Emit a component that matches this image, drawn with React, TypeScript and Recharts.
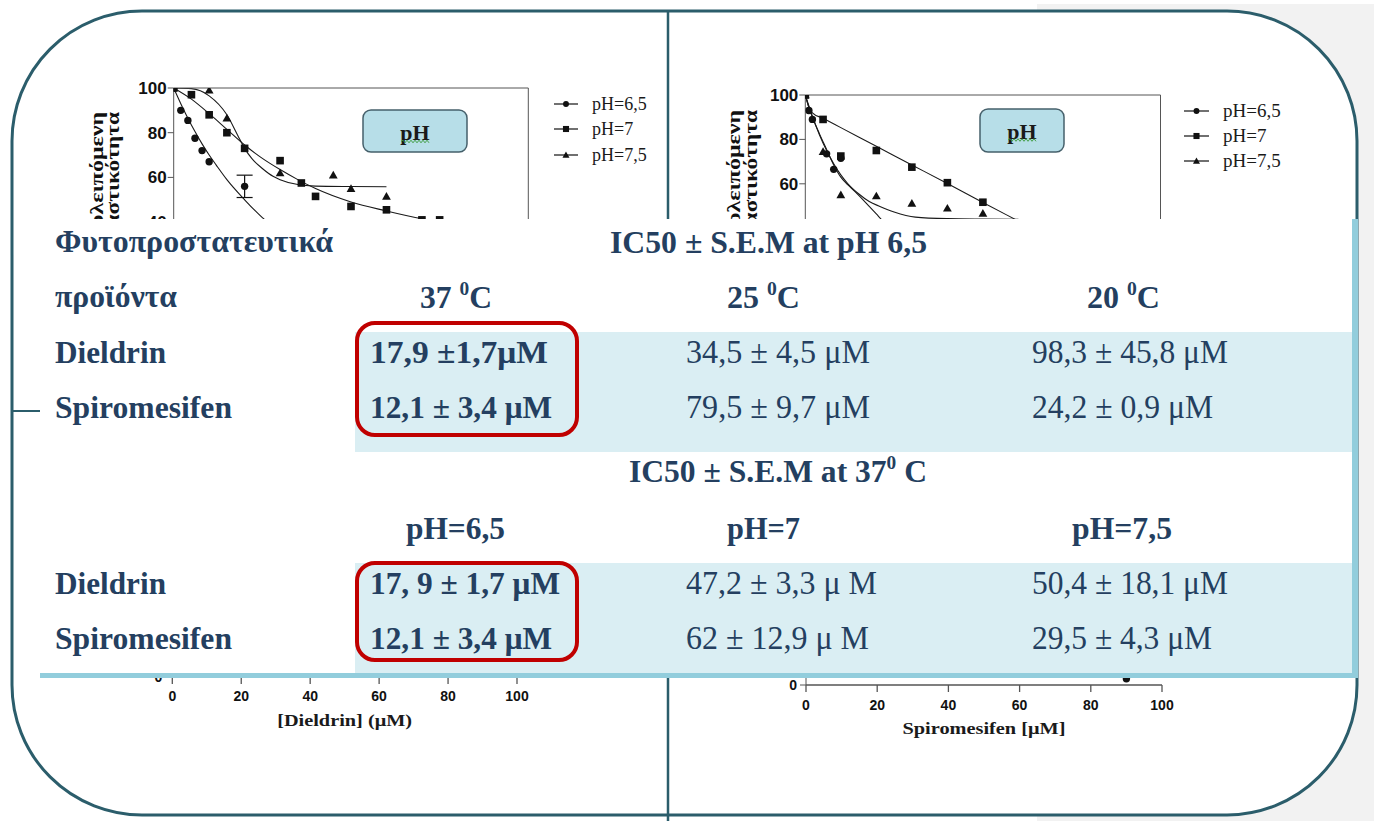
import React from 'react';
import { ComposedChart, Scatter, Line, XAxis, YAxis, Legend, ErrorBar } from 'recharts';

type Pt = { x: number; y: number; err?: number };
type Kind = 'circle' | 'square' | 'triangle';

// ---- axis ticks / series names ----
const xTicks = [0, 20, 40, 60, 80, 100];
const yTicksDieldrin = [40, 60, 80, 100];
const yTicksSpiro = [60, 80, 100];
const phLabels = ['pH=6,5', 'pH=7', 'pH=7,5'];
const markerKinds: Kind[] = ['circle', 'square', 'triangle'];
const yTitleLines = ['Υπολειπόμενη', 'δραστικότητα'];

// ---- Dieldrin: remaining activity (%) vs concentration (μM) ----
const dieldrinPh65: Pt[] = [
  { x: 0, y: 100 }, { x: 2, y: 90 }, { x: 4, y: 85.5 }, { x: 6, y: 77.5 },
  { x: 8, y: 72 }, { x: 10, y: 67 }, { x: 20, y: 56, err: 5 },
];
const dieldrinPh7: Pt[] = [
  { x: 0, y: 100 }, { x: 5, y: 97 }, { x: 10, y: 88 }, { x: 15, y: 80 }, { x: 20, y: 73 },
  { x: 30, y: 67.5 }, { x: 36, y: 57.5 }, { x: 40, y: 51.5 }, { x: 50, y: 47 },
  { x: 60, y: 45.5 }, { x: 70, y: 41 }, { x: 75, y: 41 },
];
const dieldrinPh75: Pt[] = [
  { x: 0, y: 100 }, { x: 10, y: 99 }, { x: 15, y: 86.5 }, { x: 30, y: 62 },
  { x: 45, y: 61 }, { x: 50, y: 55 }, { x: 60, y: 51.5 },
];
// fitted curves
const dieldrinFit65: Pt[] = [
  { x: 0, y: 100 }, { x: 2, y: 93 }, { x: 4, y: 86.5 }, { x: 6, y: 80.5 }, { x: 8, y: 75 },
  { x: 10, y: 70 }, { x: 12, y: 65.5 }, { x: 15, y: 59 }, { x: 20, y: 50 }, { x: 25, y: 42 },
  { x: 30, y: 36 }, { x: 40, y: 27 }, { x: 50, y: 21 }, { x: 60, y: 17 }, { x: 70, y: 14 },
  { x: 80, y: 12 }, { x: 90, y: 10.5 }, { x: 100, y: 9.5 },
];
const dieldrinFit7: Pt[] = [
  { x: 0, y: 100 }, { x: 5, y: 95 }, { x: 10, y: 88.5 }, { x: 15, y: 81.5 }, { x: 20, y: 74.5 },
  { x: 25, y: 68.5 }, { x: 30, y: 63.5 }, { x: 35, y: 59 }, { x: 40, y: 55 }, { x: 50, y: 49 },
  { x: 60, y: 45 }, { x: 70, y: 41.5 }, { x: 80, y: 39 }, { x: 90, y: 37 }, { x: 100, y: 35.5 },
];
const dieldrinFit75: Pt[] = [
  { x: 0, y: 100 }, { x: 5, y: 99.7 }, { x: 10, y: 96.5 }, { x: 15, y: 88 }, { x: 18, y: 79 },
  { x: 20, y: 73 }, { x: 22, y: 68.5 }, { x: 25, y: 64 }, { x: 28, y: 60.5 }, { x: 30, y: 59 },
  { x: 35, y: 56.8 }, { x: 40, y: 56.1 }, { x: 50, y: 55.9 }, { x: 60, y: 55.8 },
];

// ---- Spiromesifen: remaining activity (%) vs concentration (μM) ----
const spiroPh65: Pt[] = [
  { x: 0, y: 100 }, { x: 1, y: 93 }, { x: 2, y: 89 }, { x: 6, y: 73.5 },
  { x: 8, y: 66.5 }, { x: 10, y: 71.5 }, { x: 90, y: 1 },
];
const spiroPh7: Pt[] = [
  { x: 0, y: 100 }, { x: 5, y: 89 }, { x: 10, y: 72.5 }, { x: 20, y: 75 },
  { x: 30, y: 67.5 }, { x: 40, y: 60.5 }, { x: 50, y: 51.7 },
];
const spiroPh75: Pt[] = [
  { x: 0, y: 100 }, { x: 5, y: 74.5 }, { x: 10, y: 55 }, { x: 20, y: 54.5 },
  { x: 30, y: 51.2 }, { x: 40, y: 49 }, { x: 50, y: 46.7 },
];
const spiroFit65: Pt[] = [
  { x: 0, y: 100 }, { x: 1, y: 94.5 }, { x: 2, y: 90 }, { x: 4, y: 82.5 }, { x: 6, y: 75.5 },
  { x: 8, y: 68.5 }, { x: 10, y: 63 }, { x: 12, y: 59.5 }, { x: 14, y: 56.5 }, { x: 16, y: 53.2 },
  { x: 18, y: 49.8 }, { x: 20, y: 46.4 }, { x: 22, y: 43 }, { x: 25, y: 39 }, { x: 30, y: 33 },
  { x: 40, y: 23 }, { x: 50, y: 15 }, { x: 60, y: 9.5 }, { x: 70, y: 5.5 }, { x: 80, y: 3 },
  { x: 90, y: 1.5 }, { x: 100, y: 0.8 },
];
const spiroFit7: Pt[] = [
  { x: 0, y: 100 }, { x: 1, y: 94.5 }, { x: 2, y: 92 }, { x: 5, y: 89.5 }, { x: 10, y: 85.3 },
  { x: 20, y: 76.9 }, { x: 30, y: 68.5 }, { x: 40, y: 60.1 }, { x: 50, y: 51.6 }, { x: 60, y: 43.2 },
  { x: 70, y: 34.8 }, { x: 80, y: 26.4 }, { x: 90, y: 18 }, { x: 100, y: 9.6 },
];
const spiroFit75: Pt[] = [
  { x: 0, y: 100 }, { x: 2, y: 90.5 }, { x: 4, y: 82 }, { x: 6, y: 75 }, { x: 8, y: 69 },
  { x: 10, y: 64 }, { x: 12, y: 60 }, { x: 15, y: 55.5 }, { x: 18, y: 52 }, { x: 21, y: 49.8 },
  { x: 25, y: 47.3 }, { x: 31, y: 45 }, { x: 40, y: 44.3 }, { x: 50, y: 44.1 }, { x: 60, y: 44 },
];

// ---- IC50 table ----
const productHeader = ['Φυτοπροστατευτικά', 'προϊόντα'];
const products = ['Dieldrin', 'Spiromesifen'];
const tempHeaders = ['37', '25', '20'];
const phHeaders = ['pH=6,5', 'pH=7', 'pH=7,5'];
const ic50ByTemp = [
  ['17,9 ±1,7μM', '34,5 ± 4,5 μM', '98,3 ± 45,8 μM'],
  ['12,1 ± 3,4 μM', '79,5 ± 9,7 μM', '24,2 ± 0,9 μM'],
];
const ic50ByPh = [
  ['17, 9 ± 1,7 μM', '47,2 ± 3,3 μ M', '50,4 ± 18,1 μM'],
  ['12,1 ± 3,4 μM', '62 ± 12,9 μ M', '29,5 ± 4,3 μM'],
];

const SERIF = '"Liberation Serif", "Times New Roman", serif';
const SANS = '"Liberation Sans", Arial, sans-serif';
const NAVY = '#243f60';
const TEAL = '#2b5d6b';
const INK = '#111';

function Marker({ kind, cx, cy, s = 1 }: { kind: Kind; cx: number; cy: number; s?: number }) {
  if (kind === 'circle') return <circle cx={cx} cy={cy} r={3.7 * s} fill={INK} />;
  if (kind === 'square')
    return <rect x={cx - 3.8 * s} y={cy - 3.8 * s} width={7.6 * s} height={7.6 * s} fill={INK} />;
  return (
    <path
      d={`M${cx},${cy - 4.3 * s}L${cx + 4.4 * s},${cy + 3.3 * s}L${cx - 4.4 * s},${cy + 3.3 * s}Z`}
      fill={INK}
    />
  );
}
const shapeFor = (kind: Kind) => (p: any) => <Marker kind={kind} cx={p.cx} cy={p.cy} />;
const kindByName: Record<string, Kind> = Object.fromEntries(phLabels.map((l, i) => [l, markerKinds[i]]));

const makeLegend = (fontSize: number, rowH: number, lineW: number, gap: number) => (props: any) => {
  const items = (props.payload || []).filter((p: any) => p.type !== 'none');
  return (
    <div style={{ fontFamily: SERIF, fontSize, color: '#1a1a1a', lineHeight: 1 }}>
      {items.map((p: any) => (
        <div key={p.value} style={{ display: 'flex', alignItems: 'center', height: rowH }}>
          <svg width={lineW + gap} height={14} style={{ display: 'block' }}>
            <line x1={0} y1={7} x2={lineW} y2={7} stroke={INK} strokeWidth={1.2} />
            <Marker kind={kindByName[p.value]} cx={lineW / 2} cy={7} s={0.8} />
          </svg>
          <span>{p.value}</span>
        </div>
      ))}
    </div>
  );
};

// rotated axis title: each line reads upward and ends a fixed distance below the plot top
const makeYTitle = (lines: string[], offsets: number[], lengths: number[], endGap: number) => (props: any) => {
  const vb = props.viewBox;
  const cy = vb.y + endGap;
  const right = vb.x + vb.width;
  return (
    <g>
      {lines.map((t, i) => {
        const cx = right - offsets[i];
        return (
          <text
            key={i}
            x={cx}
            y={cy}
            transform={`rotate(-90 ${cx} ${cy})`}
            textAnchor="end"
            dominantBaseline="central"
            textLength={lengths[i]}
            lengthAdjust="spacingAndGlyphs"
            fontFamily={SERIF}
            fontWeight={700}
            fontSize={18}
            fill={INK}
          >
            {t}
          </text>
        );
      })}
    </g>
  );
};

const makeXTitle = (text: string, dy: number, len: number) => (props: any) => {
  const vb = props.viewBox;
  return (
    <text
      x={vb.x + vb.width / 2}
      y={vb.y + dy}
      textAnchor="middle"
      textLength={len}
      lengthAdjust="spacingAndGlyphs"
      fontFamily={SERIF}
      fontWeight={700}
      fontSize={17}
      fill="#1a1a1a"
    >
      {text}
    </text>
  );
};

type Box = { left: number; top: number; w: number; h: number };
type Plot = { l: number; r: number; t: number; b: number };

function TopChart(props: {
  box: Box;
  plot: Plot;
  series: Pt[][];
  fits: Pt[][];
  yTicks: number[];
  legendAt: { x: number; y: number; font: number; rowH: number; lineW: number; gap: number };
  titleOffsets: number[];
  titleLengths: number[];
  titleEnd: number;
}) {
  const { box, plot, series, fits, yTicks, legendAt, titleOffsets, titleLengths, titleEnd } = props;
  const yW = 80;
  const margin = {
    top: plot.t - box.top,
    bottom: box.top + box.h - plot.b,
    left: plot.l - box.left - yW,
    right: box.left + box.w - plot.r,
  };
  return (
    <div style={{ position: 'absolute', left: box.left, top: box.top }}>
      <ComposedChart width={box.w} height={box.h} margin={margin}>
        <XAxis
          xAxisId="x"
          type="number"
          dataKey="x"
          domain={[0, 100]}
          ticks={xTicks}
          orientation="top"
          mirror
          tick={false}
          tickSize={5}
          stroke="#555"
          allowDataOverflow
        />
        <YAxis
          yAxisId="y"
          type="number"
          dataKey="y"
          domain={[0, 100]}
          ticks={yTicks}
          width={yW}
          tickSize={6}
          tickMargin={1}
          stroke="#555"
          tick={{ fill: INK, fontSize: 17, fontWeight: 700, fontFamily: SANS }}
          label={makeYTitle(yTitleLines, titleOffsets, titleLengths, titleEnd)}
          allowDataOverflow
        />
        <YAxis
          yAxisId="frame"
          type="number"
          orientation="right"
          mirror
          domain={[0, 100]}
          ticks={yTicks}
          width={40}
          tick={false}
          tickSize={5}
          stroke="#555"
        />
        {fits.map((f, i) => (
          <Line
            key={'fit' + i}
            xAxisId="x"
            yAxisId="y"
            data={f}
            dataKey="y"
            type="monotone"
            dot={false}
            stroke="#1a1a1a"
            strokeWidth={1.1}
            legendType="none"
            isAnimationActive={false}
          />
        ))}
        {series.map((s, i) => (
          <Scatter
            key={phLabels[i]}
            name={phLabels[i]}
            xAxisId="x"
            yAxisId="y"
            data={s}
            fill={INK}
            shape={shapeFor(markerKinds[i])}
            isAnimationActive={false}
          >
            {s.some((d) => d.err) ? (
              <ErrorBar dataKey="err" direction="y" width={8} stroke={INK} strokeWidth={1.2} />
            ) : null}
          </Scatter>
        ))}
        <Legend
          layout="vertical"
          align="center"
          verticalAlign="middle"
          content={makeLegend(legendAt.font, legendAt.rowH, legendAt.lineW, legendAt.gap)}
          wrapperStyle={{ left: legendAt.x - box.left, top: legendAt.y - box.top, width: 'auto', height: 'auto' }}
        />
      </ComposedChart>
    </div>
  );
}

function BottomChart(props: {
  box: Box;
  plot: Plot;
  series: Pt[][];
  title: string;
  titleDy: number;
  titleLen: number;
  tickMargin: number;
  yTickMargin: number;
}) {
  const { box, plot, series, title, titleDy, titleLen, tickMargin, yTickMargin } = props;
  const yW = 60;
  const xH = box.top + box.h - plot.b;
  const margin = { top: plot.t - box.top, bottom: 0, left: plot.l - box.left - yW, right: box.left + box.w - plot.r };
  return (
    <div style={{ position: 'absolute', left: box.left, top: box.top }}>
      <ComposedChart width={box.w} height={box.h} margin={margin}>
        <XAxis
          xAxisId="x"
          type="number"
          dataKey="x"
          domain={[0, 100]}
          ticks={xTicks}
          height={xH}
          tickSize={7}
          tickMargin={tickMargin}
          stroke="#555"
          strokeWidth={1.3}
          tick={{ fill: INK, fontSize: 14, fontWeight: 700, fontFamily: SANS }}
          label={makeXTitle(title, titleDy, titleLen)}
          allowDataOverflow
        />
        <YAxis
          yAxisId="y"
          type="number"
          dataKey="y"
          domain={[0, 20]}
          ticks={[0]}
          width={yW}
          tickSize={6}
          tickMargin={yTickMargin}
          stroke="#555"
          tick={{ fill: INK, fontSize: 14, fontWeight: 700, fontFamily: SANS }}
          allowDataOverflow
        />
        {series.map((s, i) => (
          <Scatter
            key={phLabels[i]}
            name={phLabels[i]}
            xAxisId="x"
            yAxisId="y"
            data={s}
            fill={INK}
            shape={shapeFor(markerKinds[i])}
            legendType="none"
            isAnimationActive={false}
          />
        ))}
      </ComposedChart>
    </div>
  );
}

function Squiggle({ x0, x1, y }: { x0: number; x1: number; y: number }) {
  let d = `M${x0},${y}`;
  let up = true;
  for (let x = x0 + 2; x <= x1; x += 2) {
    d += `L${x},${y + (up ? -1.3 : 1.3)}`;
    up = !up;
  }
  return <path d={d} fill="none" stroke="#3a9a3a" strokeWidth={0.9} />;
}

function PhBox({ x, y, w, h, base }: { x: number; y: number; w: number; h: number; base: number }) {
  const cx = x + w / 2;
  return (
    <g>
      <rect x={x} y={y} width={w} height={h} rx={8} fill="#b7dee8" stroke="#46606b" strokeWidth={1.5} />
      <text x={cx} y={base} textAnchor="middle" fontFamily={SERIF} fontWeight={700} fontSize={22} fill="#1a1a1a">
        pH
      </text>
      <Squiggle x0={cx - 14} x1={cx + 14} y={base + 1.5} />
    </g>
  );
}

function Txt(p: { x: number; y: number; len: number; bold?: boolean; size?: number; children: React.ReactNode; anchor?: string }) {
  return (
    <text
      x={p.x}
      y={p.y}
      textLength={p.len}
      lengthAdjust="spacingAndGlyphs"
      textAnchor={(p.anchor as any) || 'start'}
      fontFamily={SERIF}
      fontWeight={p.bold ? 700 : 400}
      fontSize={p.size || (p.bold ? 31 : 33)}
      fill={NAVY}
    >
      {p.children}
    </text>
  );
}

export default function App() {
  // table geometry
  const cols = [370, 686, 1032];
  const tempX = [420, 727, 1087];
  const tempW = [72, 73, 73];
  const phX = [406, 727, 1072];
  const phW = [99, 73, 100];
  const w1 = [[178, 184, 196], [182, 184, 181]];
  const w2 = [[190, 191, 196], [182, 183, 180]];
  const rowsA = [363, 418];
  const rowsB = [594, 649];

  return (
    <div style={{ position: 'absolute', left: 0, top: 0, width: 1374, height: 821, background: '#fff', overflow: 'hidden' }}>
      {/* slide background and frame */}
      <svg width={1374} height={821} style={{ position: 'absolute', left: 0, top: 0 }}>
        <rect x={1037} y={4} width={337} height={817} fill="#f2f2f2" />
        <rect x={12} y={11} width={1345} height={804} rx={130} ry={130} fill="#fff" stroke={TEAL} strokeWidth={3} />
        <line x1={668} y1={11} x2={668} y2={821} stroke={TEAL} strokeWidth={2.5} />
        <line x1={12} y1={411} x2={40} y2={411} stroke={TEAL} strokeWidth={2} />
      </svg>

      <TopChart
        box={{ left: 0, top: 0, w: 680, h: 330 }}
        plot={{ l: 173.7, r: 528.3, t: 88, b: 311.5 }}
        series={[dieldrinPh65, dieldrinPh7, dieldrinPh75]}
        fits={[dieldrinFit65, dieldrinFit7, dieldrinFit75]}
        yTicks={yTicksDieldrin}
        legendAt={{ x: 554, y: 91, font: 18, rowH: 25.5, lineW: 24, gap: 14 }}
        titleOffsets={[77, 61]}
        titleLengths={[145, 140]}
        titleEnd={24}
      />
      <TopChart
        box={{ left: 680, top: 0, w: 620, h: 330 }}
        plot={{ l: 805.3, r: 1160.5, t: 95, b: 317 }}
        series={[spiroPh65, spiroPh7, spiroPh75]}
        fits={[spiroFit65, spiroFit7, spiroFit75]}
        yTicks={yTicksSpiro}
        legendAt={{ x: 1184, y: 98, font: 19, rowH: 25.2, lineW: 25, gap: 14 }}
        titleOffsets={[71, 54]}
        titleLengths={[145, 140]}
        titleEnd={15}
      />
      <BottomChart
        box={{ left: 0, top: 560, w: 560, h: 200 }}
        plot={{ l: 172.3, r: 517, t: 560, b: 677 }}
        series={[dieldrinPh65, dieldrinPh7, dieldrinPh75]}
        title="[Dieldrin] (μM)"
        titleDy={49}
        titleLen={135}
        tickMargin={7}
        yTickMargin={4}
      />
      <BottomChart
        box={{ left: 680, top: 560, w: 620, h: 200 }}
        plot={{ l: 806, r: 1162, t: 560, b: 685 }}
        series={[spiroPh65, spiroPh7, spiroPh75]}
        title="Spiromesifen [μM]"
        titleDy={49}
        titleLen={163}
        tickMargin={8}
        yTickMargin={3}
      />

      {/* IC50 table and shapes drawn over the charts */}
      <svg width={1374} height={821} style={{ position: 'absolute', left: 0, top: 0, pointerEvents: 'none' }}>
        <PhBox x={363} y={110} w={104} h={42} base={140} />
        <PhBox x={980} y={109} w={84} h={43} base={138.5} />

        <rect x={40} y={219} width={1318} height={459} fill="#fff" />
        <rect x={355} y={332} width={997} height={120} fill="#daeef3" />
        <rect x={355} y={563} width={997} height={110} fill="#daeef3" />
        <rect x={1352} y={219} width={6} height={459} fill="#92cddc" />
        <rect x={40} y={673} width={1318} height={5} fill="#92cddc" />

        <Txt x={55} y={252} len={278} bold>{productHeader[0]}</Txt>
        <Txt x={55} y={307} len={122} bold>{productHeader[1]}</Txt>
        <Txt x={610} y={253} len={317} bold>IC50 ± S.E.M at pH 6,5</Txt>
        {tempHeaders.map((t, i) => (
          <Txt key={t} x={tempX[i]} y={308} len={tempW[i]} bold>
            {t + ' '}
            <tspan fontSize={19} dy={-13}>0</tspan>
            <tspan dy={13}>C</tspan>
          </Txt>
        ))}
        {products.map((p, r) => (
          <Txt key={'a' + p} x={55} y={rowsA[r]} len={r === 0 ? 111 : 177} bold>{p}</Txt>
        ))}
        {ic50ByTemp.map((row, r) =>
          row.map((v, c) => (
            <Txt key={'t' + r + c} x={cols[c]} y={rowsA[r]} len={w1[r][c]} bold={c === 0}>{v}</Txt>
          ))
        )}

        <Txt x={629} y={482} len={298} bold>
          IC50 ± S.E.M at 37
          <tspan fontSize={19} dy={-13}>0</tspan>
          <tspan dy={13}> C</tspan>
        </Txt>
        {phHeaders.map((t, i) => (
          <Txt key={t} x={phX[i]} y={539} len={phW[i]} bold>{t}</Txt>
        ))}
        {products.map((p, r) => (
          <Txt key={'b' + p} x={55} y={rowsB[r]} len={r === 0 ? 111 : 177} bold>{p}</Txt>
        ))}
        {ic50ByPh.map((row, r) =>
          row.map((v, c) => (
            <Txt key={'p' + r + c} x={cols[c]} y={rowsB[r]} len={w2[r][c]} bold={c === 0}>{v}</Txt>
          ))
        )}

        <rect x={357} y={323} width={220} height={112} rx={18} fill="none" stroke="#c00000" strokeWidth={4} />
        <rect x={357} y={563} width={220} height={97} rx={18} fill="none" stroke="#c00000" strokeWidth={4} />
      </svg>
    </div>
  );
}
